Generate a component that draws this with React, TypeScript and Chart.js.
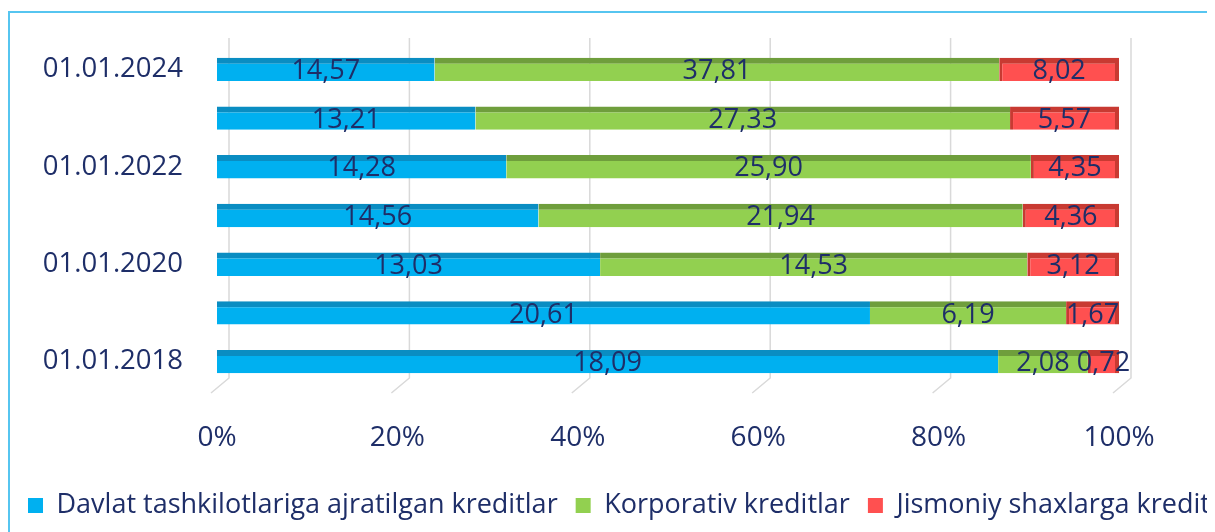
import React, { useEffect, useRef } from "react";
import { Chart, registerables } from "chart.js";

Chart.register(...registerables);

const categories = ["01.01.2024", "01.01.2023", "01.01.2022", "01.01.2021", "01.01.2020", "01.01.2019", "01.01.2018"];
const davlat = [14.57, 13.21, 14.28, 14.56, 13.03, 20.61, 18.09];
const korporativ = [37.81, 27.33, 25.90, 21.94, 14.53, 6.19, 2.08];
const jismoniy = [8.02, 5.57, 4.35, 4.36, 3.12, 1.67, 0.72];
const seriesNames = ["Davlat tashkilotlariga ajratilgan kreditlar", "Korporativ kreditlar", "Jismoniy shaxlarga kreditlar"];
const xTicks = [0, 20, 40, 60, 80, 100];

const NAVY = "#1E2E68";
const FONT = "'Open Sans', 'Noto Sans', sans-serif";

const raw = [davlat, korporativ, jismoniy];
const totals = categories.map((_, i) => davlat[i] + korporativ[i] + jismoniy[i]);
const pct = raw.map((s) => s.map((v, i) => (v / totals[i]) * 100));

const CANVAS_W = 1400;

const grid3d = {
  id: "grid3d",
  beforeDatasetsDraw(chart: any) {
    const { ctx, chartArea, scales } = chart;
    const x = scales.x;
    ctx.save();
    ctx.strokeStyle = "#D9D9D9";
    ctx.lineWidth = 1.5;
    for (const v of xTicks) {
      const px = x.getPixelForValue(v) + 12;
      ctx.beginPath();
      ctx.moveTo(px, chartArea.top - 7);
      ctx.lineTo(px, chartArea.bottom - 8);
      ctx.lineTo(px - 18, chartArea.bottom + 7);
      ctx.stroke();
    }
    ctx.restore();
  },
};

const valueLabels = {
  id: "valueLabels",
  afterDatasetsDraw(chart: any) {
    const { ctx } = chart;
    ctx.save();
    ctx.font = `27px ${FONT}`;
    ctx.fillStyle = NAVY;
    ctx.textAlign = "center";
    ctx.textBaseline = "middle";
    chart.data.datasets.forEach((_: any, di: number) => {
      const meta = chart.getDatasetMeta(di);
      meta.data.forEach((el: any, i: number) => {
        const c = el.getCenterPoint();
        const txt = raw[di][i].toFixed(2).replace(".", ",");
        ctx.fillText(txt, c.x, c.y + 2);
      });
    });
    ctx.restore();
  },
};

export default function App() {
  const ref = useRef<HTMLCanvasElement>(null);
  useEffect(() => {
    document.documentElement.style.overflow = "hidden";
    document.body.style.overflow = "hidden";
    const chart = new Chart(ref.current!, {
      type: "bar",
      data: {
        labels: categories,
        datasets: [
          {
            label: seriesNames[0],
            data: pct[0],
            backgroundColor: "#00B0F0",
            borderColor: "#0A8DC2",
            borderWidth: { top: 6, left: 0, right: 0, bottom: 0 },
            borderSkipped: false,
          },
          {
            label: seriesNames[1],
            data: pct[1],
            backgroundColor: "#92D050",
            borderColor: "#6F9E3C",
            borderWidth: { top: 6, left: 0, right: 0, bottom: 0 },
            borderSkipped: false,
          },
          {
            label: seriesNames[2],
            data: pct[2],
            backgroundColor: "#FF5050",
            borderColor: "#C83A32",
            borderWidth: { top: 6, left: 3, right: 4, bottom: 0 },
            borderSkipped: false,
          },
        ] as any,
      },
      plugins: [grid3d, valueLabels],
      options: {
        indexAxis: "y",
        animation: false,
        responsive: true,
        maintainAspectRatio: false,
        datasets: { bar: { barPercentage: 1, categoryPercentage: 0.48 } },
        layout: { padding: { top: 32, right: 0, left: 0, bottom: 3 } },
        scales: {
          x: {
            stacked: true,
            min: 0,
            max: 100,
            grid: { display: false },
            border: { display: false },
            ticks: {
              stepSize: 20,
              padding: 27,
              color: NAVY,
              font: { family: FONT, size: 28 },
              callback: (v: any) => v + "%",
            },
            afterFit: (s: any) => {
              s.height = 88;
              s.paddingLeft = 0;
              s.paddingRight = 0;
            },
          },
          y: {
            stacked: true,
            grid: { display: false },
            border: { display: false },
            ticks: {
              autoSkip: false,
              padding: 26,
              color: NAVY,
              font: { family: FONT, size: 27.5 },
              callback: (_v: any, i: number) => (i % 2 === 0 ? categories[i] : ""),
            },
            afterFit: (s: any) => {
              s.width = 207;
              s.paddingTop = 0;
              s.paddingBottom = 0;
            },
          },
          yRight: {
            type: "linear",
            position: "right",
            display: true,
            grid: { display: false },
            border: { display: false },
            ticks: { display: false },
            afterFit: (s: any) => {
              s.width = CANVAS_W - 1109;
              s.paddingTop = 0;
              s.paddingBottom = 0;
            },
          },
        },
        plugins: {
          tooltip: { enabled: false },
          legend: {
            position: "bottom",
            align: "start",
            labels: {
              color: NAVY,
              font: { family: FONT, size: 27 },
              boxWidth: 15,
              boxHeight: 15,
              padding: 18,
              generateLabels: (c: any) =>
                c.data.datasets.map((d: any, i: number) => ({
                  text: d.label,
                  fillStyle: d.backgroundColor,
                  strokeStyle: d.backgroundColor,
                  lineWidth: 0,
                  datasetIndex: i,
                  hidden: false,
                  fontColor: NAVY,
                })),
            },
          },
        },
      } as any,
    });
    return () => chart.destroy();
  }, []);
  return (
    <div
      style={{
        marginTop: 3,
        width: 1420,
        height: 540,
        borderTop: "2px solid #56C5F0",
        borderLeft: "2px solid #56C5F0",
        overflow: "hidden",
        boxSizing: "border-box",
      }}
    >
      <div style={{ width: CANVAS_W, height: 519, position: "relative" }}>
        <canvas ref={ref} />
      </div>
    </div>
  );
}
